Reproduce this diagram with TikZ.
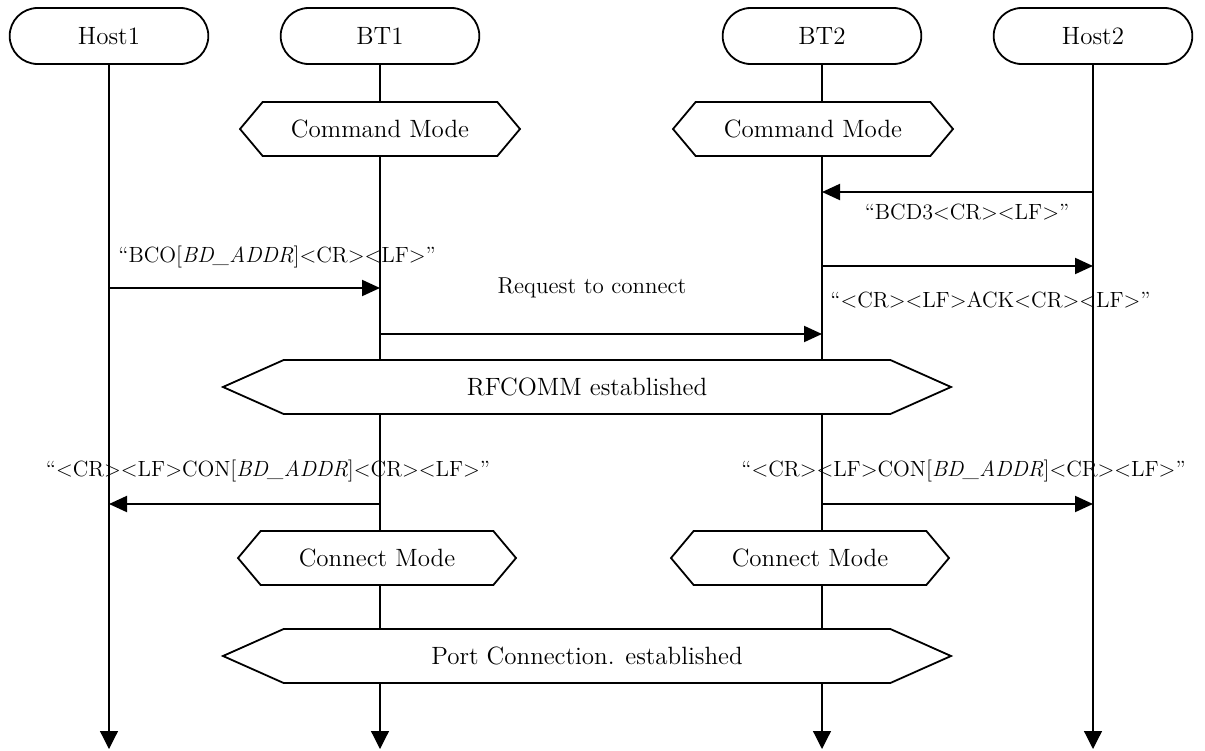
\documentclass[tikz,border=0pt]{standalone}
\usetikzlibrary{shapes.misc,shapes.symbols,arrows.meta}
\tikzset{
  actor/.style={draw,rounded rectangle,line width=0.9pt,minimum width=106pt,minimum height=28pt,font=\fontsize{12.5}{14}\selectfont},
  state/.style={draw,fill=white,signal,signal to=west and east,signal pointer angle=100,line width=0.9pt,minimum height=27pt,inner xsep=4pt,font=\fontsize{12.5}{14}\selectfont},
  phase/.style={state,signal pointer angle=48},
  msg/.style={line width=1pt,-{Triangle[length=9pt,width=8pt]}},
  life/.style={line width=0.6pt,-{Triangle[length=9pt,width=9pt]}},
  lbl/.style={font=\fontsize{11}{13}\selectfont,inner sep=0pt},
}
\begin{document}
\begin{tikzpicture}[x=0.5pt,y=-0.5pt]
  \useasboundingbox (0,0) rectangle (1205,750);
  % participants and lifelines
  \node[actor] (host1) at (109,36) {Host1};
  \node[actor] (bt1) at (380,36) {BT1};
  \node[actor] (bt2) at (822,36) {BT2};
  \node[actor] (host2) at (1093,36) {Host2};
  \coordinate (bottom) at (0,749);
  \foreach \n in {host1,bt1,bt2,host2}
    \draw[life] (\n.south) -- (\n |- bottom);
  % states
  \node[state,minimum width=140pt] (cmd1) at (380,129) {Command Mode};
  \node[state,minimum width=140pt] (cmd2) at (813,129) {Command Mode};
  \node[phase,minimum width=364pt] (rfcomm) at (587,387) {RFCOMM established};
  \node[state,minimum width=139pt] (con1) at (377,558) {Connect Mode};
  \node[state,minimum width=139pt] (con2) at (810,558) {Connect Mode};
  \node[phase,minimum width=364pt] (port) at (587,656) {Port Connection. established};
  % message rows
  \coordinate (r1) at (0,192);
  \coordinate (r2) at (0,266);
  \coordinate (r3) at (0,288);
  \coordinate (r4) at (0,334);
  \coordinate (r5) at (0,504);
  \draw[msg] (host2 |- r1) -- (bt2 |- r1);
  \draw[msg] (bt2 |- r2) -- (host2 |- r2);
  \draw[msg] (host1 |- r3) -- (bt1 |- r3);
  \draw[msg] (bt1 |- r4) -- (bt2 |- r4);
  \draw[msg] (bt1 |- r5) -- (host1 |- r5);
  \draw[msg] (bt2 |- r5) -- (host2 |- r5);
  % labels
  \node[lbl] (lbcd) at (967,212) {``BCD3<CR><LF>''};
  \node[lbl,anchor=west] (lbco) at (118,257) {``BCO[\textit{BD\_ADDR}]<CR><LF>''};
  \node[lbl,anchor=west] (lack) at (830,300) {``<CR><LF>ACK<CR><LF>''};
  \node[lbl] (lreq) at (592,288) {\fontsize{11.5}{13}\selectfont Request to connect};
  \node[lbl] (lcon1) at (268,471) {``<CR><LF>CON[\textit{BD\_ADDR}]<CR><LF>''};
  \node[lbl,anchor=west] (lcon2) at (741,471) {``<CR><LF>CON[\textit{BD\_ADDR}]<CR><LF>''};
\end{tikzpicture}
\end{document}
